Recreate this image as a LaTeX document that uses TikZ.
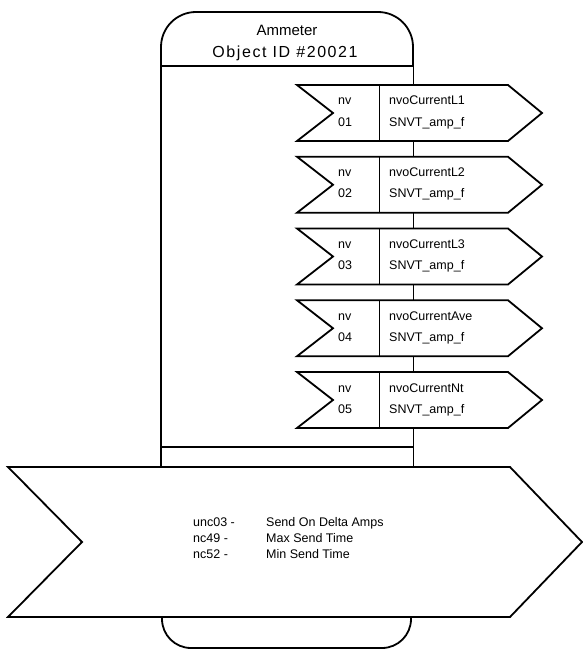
\documentclass[tikz,border=0pt]{standalone}
\usepackage{fontspec}
\setmainfont{Liberation Sans}
\begin{document}
\begin{tikzpicture}[x=1pt,y=-1pt,
    outline/.style={line width=1.8pt, line join=miter, miter limit=4},
    thinline/.style={line width=0.8pt},
    hdr/.style={font=\fontsize{15}{18}\selectfont, inner sep=0pt},
    lbl/.style={font=\fontsize{12.5}{15}\selectfont, inner sep=0pt, anchor=base west},
    cfg/.style={font=\fontsize{12.5}{15}\selectfont, inner sep=0pt, anchor=base west}]
  \useasboundingbox (0,0) rectangle (583,650);

  % ---- object body ----
  \fill[white] (161,467) -- (161,47) arc[start angle=180,end angle=270,radius=35]
    -- (378,12) arc[start angle=270,end angle=360,radius=35] -- (413,467) -- cycle;
  \draw[outline] (161,467) -- (161,47) arc[start angle=180,end angle=270,radius=35]
    -- (378,12) arc[start angle=270,end angle=360,radius=35] -- (413,66);
  \coordinate (hdrL) at (161,66);
  \coordinate (hdrR) at (413,66);
  \draw[outline] (hdrL) -- (hdrR);
  \coordinate (railTop) at (413,66);
  \coordinate (railBot) at (413,467);
  \draw[thinline] (railTop) -- (railBot);
  \coordinate (sepL) at (161,447);
  \coordinate (sepR) at (413,447);
  \draw[outline] (sepL) -- (sepR);

  \node[hdr] (title) at (287,30) {Ammeter};
  \node[hdr] (objid) at (285,53) {\fontsize{16}{18}\selectfont\addfontfeature{LetterSpace=10}Object ID \#20021};

  % ---- network variable outputs ----
  \foreach \i/\num/\name in {0/01/nvoCurrentL1, 1/02/nvoCurrentL2, 2/03/nvoCurrentL3,
                             3/04/nvoCurrentAve, 4/05/nvoCurrentNt} {
    \pgfmathsetmacro{\t}{85+71.75*\i}
    \pgfmathsetmacro{\b}{\t+56}
    \pgfmathsetmacro{\m}{\t+28}
    \filldraw[outline, fill=white] (297,\t) -- (333,\m) -- (297,\b) -- (508,\b)
      -- (542,\m) -- (508,\t) -- cycle;
    \coordinate (divT\i) at (379,\t);
    \coordinate (divB\i) at (379,\b);
    \draw[thinline] (divT\i) -- (divB\i);
    \node[lbl] (nvtag\i) at (338,\t+20) {nv};
    \node[lbl] (nvnum\i) at (338,\t+41) {\num};
    \node[lbl] (nvname\i) at (389,\t+20) {\name};
    \node[lbl] (nvtype\i) at (389,\t+41) {SNVT\_amp\_f};
  }

  % ---- configuration properties ----
  \filldraw[outline, fill=white] (8,467) -- (82,542) -- (8,617) -- (510,617)
    -- (582,542) -- (510,467) -- cycle;
  \node[cfg] (cp1) at (193,526) {unc03 -};
  \node[cfg] (cp2) at (193,542) {nc49 -};
  \node[cfg] (cp3) at (193,558) {nc52 -};
  \node[cfg] (cd1) at (266,526) {Send On Delta Amps};
  \node[cfg] (cd2) at (266,542) {Max Send Time};
  \node[cfg] (cd3) at (266,558) {Min Send Time};

  % ---- body foot ----
  \draw[outline] (162,617) -- (162,619) arc[start angle=180,end angle=90,radius=29]
    -- (382,648) arc[start angle=90,end angle=0,radius=29] -- (411,617);
\end{tikzpicture}
\end{document}
